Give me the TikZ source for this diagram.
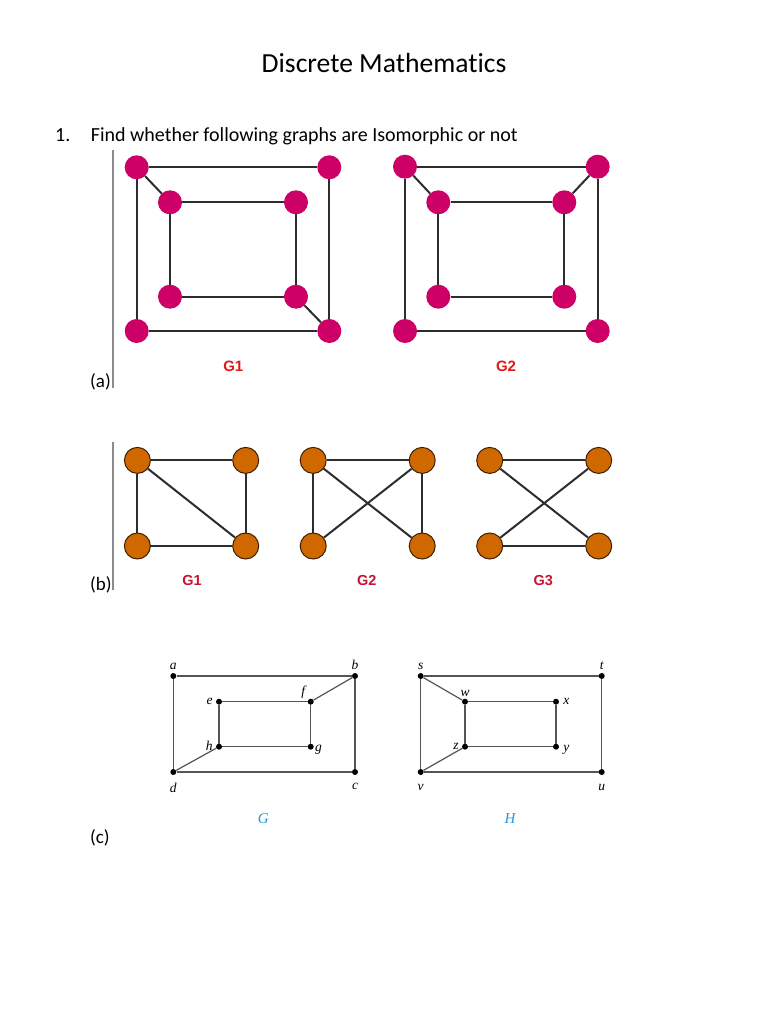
\documentclass[tikz,border=0pt]{standalone}
\usepackage{fontspec}
\setmainfont{Carlito}[Ligatures=NoCommon]
\newfontfamily\arialfont{Liberation Sans}
\newfontfamily\timesfont{Liberation Serif}
\usepackage{tikz}
\usetikzlibrary{positioning}
\usepackage{xcolor}
\definecolor{pinkfill}{RGB}{204,0,102}
\definecolor{orgfill}{RGB}{208,104,0}
\definecolor{orgline}{RGB}{60,30,5}
\definecolor{edgegray}{RGB}{45,45,45}
\definecolor{finegray}{RGB}{85,85,85}
\definecolor{barGray}{RGB}{140,140,140}
\definecolor{redA}{RGB}{225,25,25}
\definecolor{redB}{RGB}{200,20,50}
\definecolor{blueL}{RGB}{30,150,225}

\begin{document}
\begin{tikzpicture}[x=1pt,y=-1pt,
  pnk/.style={circle,fill=pinkfill,inner sep=0pt,minimum size=24pt},
  org/.style={circle,draw=orgline,fill=orgfill,line width=1pt,inner sep=0pt,minimum size=26pt},
  vtx/.style={circle,fill=black,inner sep=0pt,minimum size=6pt},
  edg/.style={draw=edgegray,line width=2pt},
  fine/.style={draw=finegray,line width=1.2pt},
  bar/.style={draw=barGray,line width=1.5pt},
  txt/.style={inner sep=0pt,anchor=base west,font=\fontsize{20}{24}\selectfont},
  part/.style={inner sep=0pt,anchor=base west,font=\fontsize{19}{23}\selectfont},
  glabA/.style={font=\arialfont\bfseries\fontsize{15}{18}\selectfont,text=redA},
  glabB/.style={font=\arialfont\bfseries\fontsize{14.5}{17}\selectfont,text=redB},
  ltr/.style={inner sep=1pt,font=\timesfont\itshape\fontsize{13.5}{16}\selectfont},
  glabC/.style={font=\timesfont\itshape\fontsize{15}{18}\selectfont,text=blueL}]
\fill[white] (0,0) rectangle (768,1024);
\useasboundingbox (0,0) rectangle (768,1024);

% heading
\node[inner sep=0pt,anchor=base,font=\fontsize{27.6}{33}\selectfont] (title) at (384,72.3) {Discrete Mathematics};
\node[txt] (num) at (55,141.7) {1.};
\node[txt] (quest) at (90.7,141.7) {Find whether following graphs are Isomorphic or not};

% (a)
\draw[bar] (113,150) -- (113,388);
\node[part] (parta) at (90,387.7) {(a)};
\node[pnk] (a1tl) at (136.7,167.3) {}; \node[pnk] (a1tr) at (329.3,167.3) {};
\node[pnk] (a1bl) at (136.7,331) {};   \node[pnk] (a1br) at (329.3,331) {};
\node[pnk] (a1itl) at (170,202.3) {};  \node[pnk] (a1itr) at (296,202.3) {};
\node[pnk] (a1ibl) at (170,296.7) {};  \node[pnk] (a1ibr) at (296,296.7) {};
\draw[edg] (a1tl)--(a1tr); \draw[edg] (a1tr)--(a1br); \draw[edg] (a1br)--(a1bl); \draw[edg] (a1bl)--(a1tl);
\draw[edg] (a1itl)--(a1itr); \draw[edg] (a1itr)--(a1ibr); \draw[edg] (a1ibr)--(a1ibl); \draw[edg] (a1ibl)--(a1itl);
\draw[edg] (a1tl)--(a1itl); \draw[edg] (a1br)--(a1ibr);
\node[glabA] (ga1) at (233.3,366.7) {G1};

\node[pnk] (a2tl) at (405,166.7) {};   \node[pnk] (a2tr) at (597.7,166.7) {};
\node[pnk] (a2bl) at (405,331) {};     \node[pnk] (a2br) at (597.7,331) {};
\node[pnk] (a2itl) at (438.3,202.3) {}; \node[pnk] (a2itr) at (564.3,202.3) {};
\node[pnk] (a2ibl) at (438.3,296.7) {}; \node[pnk] (a2ibr) at (564.3,296.7) {};
\draw[edg] (a2tl)--(a2tr); \draw[edg] (a2tr)--(a2br); \draw[edg] (a2br)--(a2bl); \draw[edg] (a2bl)--(a2tl);
\draw[edg] (a2itl)--(a2itr); \draw[edg] (a2itr)--(a2ibr); \draw[edg] (a2ibr)--(a2ibl); \draw[edg] (a2ibl)--(a2itl);
\draw[edg] (a2tl)--(a2itl); \draw[edg] (a2tr)--(a2itr);
\node[glabA] (ga2) at (506,366.7) {G2};

% (b)
\draw[bar] (113,442) -- (113,590);
\node[part] (partb) at (90,590) {(b)};
\node[org] (b1tl) at (137.4,460.4) {}; \node[org] (b1tr) at (245.7,460.4) {};
\node[org] (b1bl) at (137.4,546) {};   \node[org] (b1br) at (245.7,546) {};
\draw[edg] (b1tl)--(b1tr); \draw[edg] (b1tl)--(b1bl); \draw[edg] (b1tr)--(b1br);
\draw[edg] (b1bl)--(b1br); \draw[edg] (b1tl)--(b1br);
\node[glabB] (gb1) at (192,580.5) {G1};

\node[org] (b2tl) at (313.2,460.4) {}; \node[org] (b2tr) at (422.2,460.4) {};
\node[org] (b2bl) at (313.2,546) {};   \node[org] (b2br) at (422.2,546) {};
\draw[edg] (b2tl)--(b2tr); \draw[edg] (b2tl)--(b2bl); \draw[edg] (b2tr)--(b2br);
\draw[edg] (b2tl)--(b2br); \draw[edg] (b2bl)--(b2tr);
\node[glabB] (gb2) at (366.8,580.5) {G2};

\node[org] (b3tl) at (489.7,460.4) {}; \node[org] (b3tr) at (598.7,460.4) {};
\node[org] (b3bl) at (489.7,546) {};   \node[org] (b3br) at (598.7,546) {};
\draw[edg] (b3tl)--(b3tr); \draw[edg] (b3bl)--(b3br);
\draw[edg] (b3tl)--(b3br); \draw[edg] (b3bl)--(b3tr);
\node[glabB] (gb3) at (543.3,580.5) {G3};

% (c)
\node[part] (partc) at (90,843) {(c)};
\node[vtx] (a) at (173.3,676) {}; \node[vtx] (b) at (355,676) {};
\node[vtx] (c) at (355,772) {};   \node[vtx] (d) at (173.3,772) {};
\node[vtx] (e) at (219,701.7) {}; \node[vtx] (f) at (310.7,701.7) {};
\node[vtx] (g) at (310.7,746.7) {}; \node[vtx] (h) at (219,746.7) {};
\draw[fine] (a)--(b); \draw[fine] (b)--(c); \draw[fine] (c)--(d); \draw[fine] (d)--(a);
\draw[fine] (e)--(f); \draw[fine] (f)--(g); \draw[fine] (g)--(h); \draw[fine] (h)--(e);
\draw[fine] (b)--(f); \draw[fine] (d)--(h);
\node[ltr,above=2pt of a] (la) {a}; \node[ltr,above=2pt of b] (lb) {b};
\node[ltr,below=7pt of c] (lc) {c}; \node[ltr,below=7pt of d] (ld) {d};
\node[ltr,left=2pt of e] (le) {e}; \node[ltr,above left=0pt and 2pt of f] (lf) {f};
\node[ltr,right=0pt of g,yshift=-3pt] (lg) {g}; \node[ltr,left=2pt of h,yshift=1pt] (lh) {h};
\node[glabC] (gG) at (263.3,818.3) {G};

\node[vtx] (s) at (420.7,676) {}; \node[vtx] (t) at (601.7,676) {};
\node[vtx] (u) at (601.7,772) {}; \node[vtx] (v) at (420.7,772) {};
\node[vtx] (w) at (465,701.7) {}; \node[vtx] (x) at (556,701.7) {};
\node[vtx] (y) at (556,746.7) {}; \node[vtx] (z) at (465,746.7) {};
\draw[fine] (s)--(t); \draw[fine] (t)--(u); \draw[fine] (u)--(v); \draw[fine] (v)--(s);
\draw[fine] (w)--(x); \draw[fine] (x)--(y); \draw[fine] (y)--(z); \draw[fine] (z)--(w);
\draw[fine] (s)--(w); \draw[fine] (v)--(z);
\node[ltr,above=2pt of s] (ls) {s}; \node[ltr,above=2pt of t] (lt) {t};
\node[ltr,below=8pt of u] (lu) {u}; \node[ltr,below=8pt of v] (lv) {v};
\node[ltr,above=1pt of w] (lw) {w}; \node[ltr,right=3pt of x] (lx) {x};
\node[ltr,right=3pt of y,yshift=-3pt] (ly) {y}; \node[ltr,left=2pt of z] (lz) {z};
\node[glabC] (gH) at (510,818.3) {H};
\end{tikzpicture}
\end{document}
